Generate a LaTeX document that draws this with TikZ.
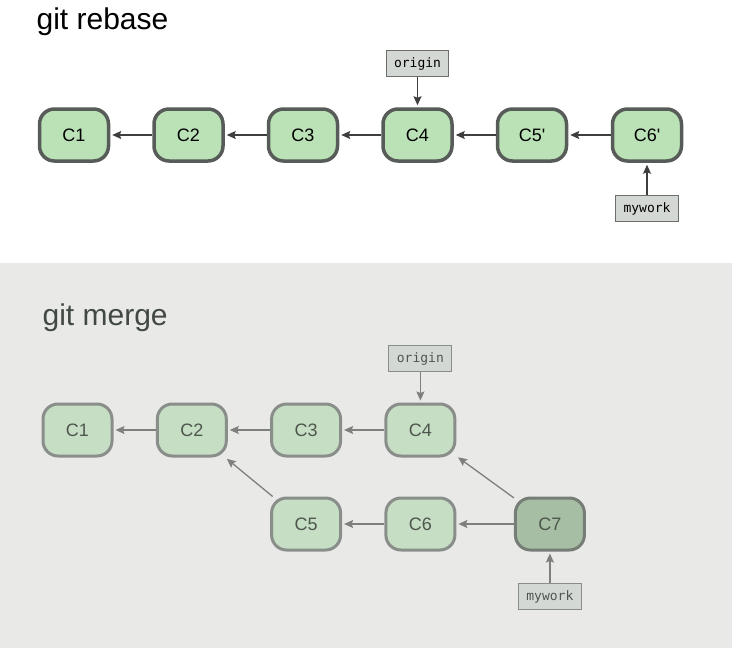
\documentclass[tikz,border=0pt]{standalone}
\usepackage{fontspec}
\setmainfont{Liberation Sans}
\setmonofont{DejaVu Sans Mono}
\usetikzlibrary{arrows.meta,positioning}
\definecolor{rebasefill}{RGB}{187,226,183}
\definecolor{rebaseline}{RGB}{88,92,88}
\definecolor{rebasearrow}{RGB}{62,62,62}
\definecolor{mergebg}{RGB}{233,234,231}
\definecolor{mergefill}{RGB}{198,222,196}
\definecolor{mergeline}{RGB}{138,142,138}
\definecolor{mergetext}{RGB}{78,86,78}
\definecolor{mergearrow}{RGB}{126,128,126}
\definecolor{headfill}{RGB}{166,190,163}
\definecolor{headline}{RGB}{118,124,118}
\definecolor{labelfill}{RGB}{212,216,212}
\definecolor{labelline}{RGB}{108,110,108}

\begin{document}
\begin{tikzpicture}[x=1pt,y=-1pt,->,>={Stealth[length=9pt,width=8pt,inset=1.5pt]},auto,line width=1.3pt]
\tikzstyle{commit}=[shape=rectangle,draw=rebaseline,fill=rebasefill,line width=3.5pt,rounded corners=15pt,minimum width=69pt,minimum height=52pt,inner sep=0pt,text=black,font=\fontsize{18}{20}\selectfont]
\tikzstyle{merged}=[commit,draw=mergeline,fill=mergefill,line width=3pt,text=mergetext]
\tikzstyle{branch}=[shape=rectangle,draw=labelline,fill=labelfill,line width=1pt,minimum height=26pt,inner xsep=8pt,inner ysep=0pt,text=black,font=\ttfamily\fontsize{13}{14}\selectfont]
\tikzstyle{title}=[anchor=base west,inner sep=0pt,font=\fontsize{30}{32}\selectfont]

\useasboundingbox (0,0) rectangle (732,648);
\fill[-,mergebg] (0,263) rectangle (732,648);

\node[title]            (t1) at (36,29)  {git rebase};
\node[title,text=mergetext!85!black] (t2) at (42,325) {git merge};

\node[commit]           (r1) at (74,135) {C1};
\node[commit]           (r2) [right of=r1, node distance=114.5pt] {C2};
\node[commit]           (r3) [right of=r2, node distance=114.5pt] {C3};
\node[commit]           (r4) [right of=r3, node distance=114.5pt] {C4};
\node[commit]           (r5) [right of=r4, node distance=114.5pt] {C5\textquotesingle};
\node[commit]           (r6) [right of=r5, node distance=115pt] {C6\textquotesingle};
\node[branch]           (ro) [above of=r4, node distance=71.5pt] {origin};
\node[branch]           (rw) [below of=r6, node distance=73.5pt] {mywork};

\node[merged]           (m1) at (77.5,430) {C1};
\node[merged]           (m2) [right of=m1, node distance=114.3pt] {C2};
\node[merged]           (m3) [right of=m2, node distance=114.3pt] {C3};
\node[merged]           (m4) [right of=m3, node distance=114.3pt] {C4};
\node[merged]           (m5) [below of=m3, node distance=94pt] {C5};
\node[merged]           (m6) [right of=m5, node distance=114.3pt] {C6};
\node[merged]           (m7) [right of=m6, node distance=129.5pt,fill=headfill,draw=headline] {C7};
\node[branch]           (mo) [above of=m4, node distance=71.5pt,draw=mergeline,text=mergetext] {origin};
\node[branch]           (mw) [below of=m7, node distance=72.5pt,draw=mergeline,text=mergetext] {mywork};

\path[color=rebasearrow,shorten >=2pt]
(r2) edge (r1)
(r3) edge (r2)
(r4) edge (r3)
(r5) edge (r4)
(r6) edge (r5)
(ro) edge (r4)
(rw) edge (r6)
;
\path[color=mergearrow,shorten >=2pt]
(m2) edge (m1)
(m3) edge (m2)
(m4) edge (m3)
(m5) edge (m2)
(m6) edge (m5)
(m7) edge (m6)
(m7) edge (m4)
(mo) edge (m4)
(mw) edge (m7)
;
\end{tikzpicture}
\end{document}
